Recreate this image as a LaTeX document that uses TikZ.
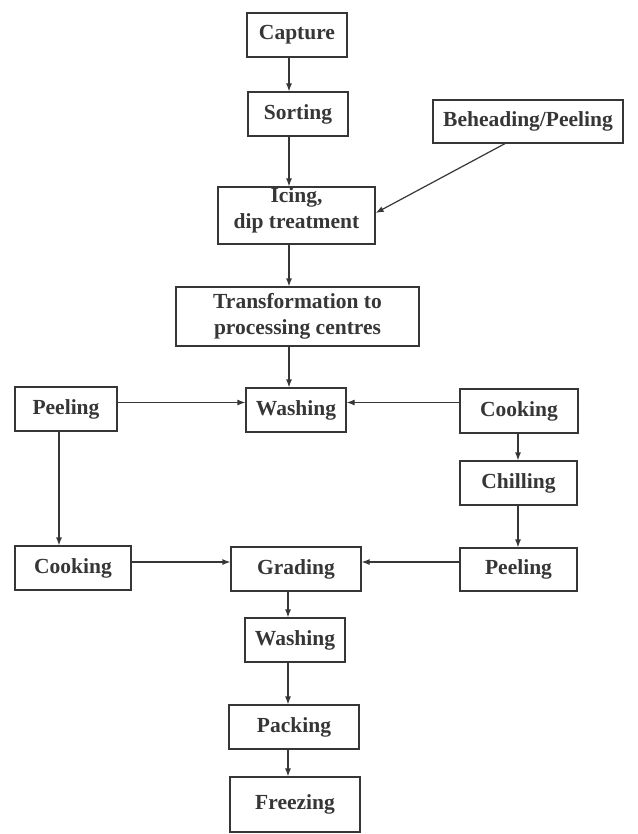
\documentclass[tikz,border=0pt]{standalone}
\usepackage{fontspec}
\setmainfont{Liberation Serif}
\usetikzlibrary{arrows.meta}
\definecolor{ink}{HTML}{363636}
\begin{document}
\begin{tikzpicture}[x=1pt,y=-1pt,
  box/.style={draw=ink, line width=1.2pt, inner sep=0pt, align=center, text=ink,
    font=\fontsize{21.5}{26}\selectfont\bfseries},
  flow/.style={draw=ink, line width=1.2pt, -{Latex[length=8pt,width=6pt]}}]
\useasboundingbox (0,0) rectangle (637,834);
% nodes
\node[box, minimum width=100pt, minimum height=44pt] (capture) at (297,35) {Capture};
\node[box, minimum width=100pt, minimum height=44pt] (sorting) at (298,114) {Sorting};
\node[box, minimum width=190pt, minimum height=43pt] (behead) at (528,121.5) {Beheading/Peeling};
\node[box, minimum width=157pt, minimum height=57pt] (icing) at (296.5,215.5) {};
\node[text=ink, align=center, font=\fontsize{21.5}{26}\selectfont\bfseries] (icingtxt) at (296.5,210) {Icing,\\dip treatment};
\node[box, minimum width=243pt, minimum height=59pt] (transf) at (297.5,316.5) {Transformation to\\processing centres};
\node[box, minimum width=102pt, minimum height=44pt] (peelL) at (66,409) {Peeling};
\node[box, minimum width=100pt, minimum height=44pt] (wash1) at (296,410) {Washing};
\node[box, minimum width=118pt, minimum height=44pt] (cookR) at (519,411) {Cooking};
\node[box, minimum width=117pt, minimum height=44pt] (chill) at (518.5,483) {Chilling};
\node[box, minimum width=116pt, minimum height=44pt] (cookL) at (73,568) {Cooking};
\node[box, minimum width=130pt, minimum height=44pt] (grading) at (296,569) {Grading};
\node[box, minimum width=117pt, minimum height=43pt] (peelR) at (518.5,569.5) {Peeling};
\node[box, minimum width=100pt, minimum height=44pt] (wash2) at (295,640) {Washing};
\node[box, minimum width=130pt, minimum height=44pt] (packing) at (294,727) {Packing};
\node[box, minimum width=130pt, minimum height=55pt] (freezing) at (295,804.5) {Freezing};
% guide coordinates
\coordinate (spine) at (289,0);
\coordinate (spine2) at (288,0);
\coordinate (rowA) at (0,402.5);
\coordinate (rowB) at (0,562);
\coordinate (colL) at (59,0);
\coordinate (colR) at (518,0);
\coordinate (bx) at (505,0);
\coordinate (iy) at (0,213);
% connectors
\draw[flow] (capture.south -| spine) -- (sorting.north -| spine);
\draw[flow] (sorting.south -| spine) -- (icing.north -| spine);
\draw[flow] (icing.south -| spine) -- (transf.north -| spine);
\draw[flow] (transf.south -| spine) -- (wash1.north -| spine);
\draw[flow] (behead.south -| bx) -- (icing.east |- iy);
\draw[flow] (peelL.east |- rowA) -- (wash1.west |- rowA);
\draw[flow] (cookR.west |- rowA) -- (wash1.east |- rowA);
\draw[flow] (peelL.south -| colL) -- (cookL.north -| colL);
\draw[flow] (cookR.south -| colR) -- (chill.north -| colR);
\draw[flow] (chill.south -| colR) -- (peelR.north -| colR);
\draw[flow] (cookL.east |- rowB) -- (grading.west |- rowB);
\draw[flow] (peelR.west |- rowB) -- (grading.east |- rowB);
\draw[flow] (grading.south -| spine2) -- (wash2.north -| spine2);
\draw[flow] (wash2.south -| spine2) -- (packing.north -| spine2);
\draw[flow] (packing.south -| spine2) -- (freezing.north -| spine2);
\end{tikzpicture}
\end{document}
